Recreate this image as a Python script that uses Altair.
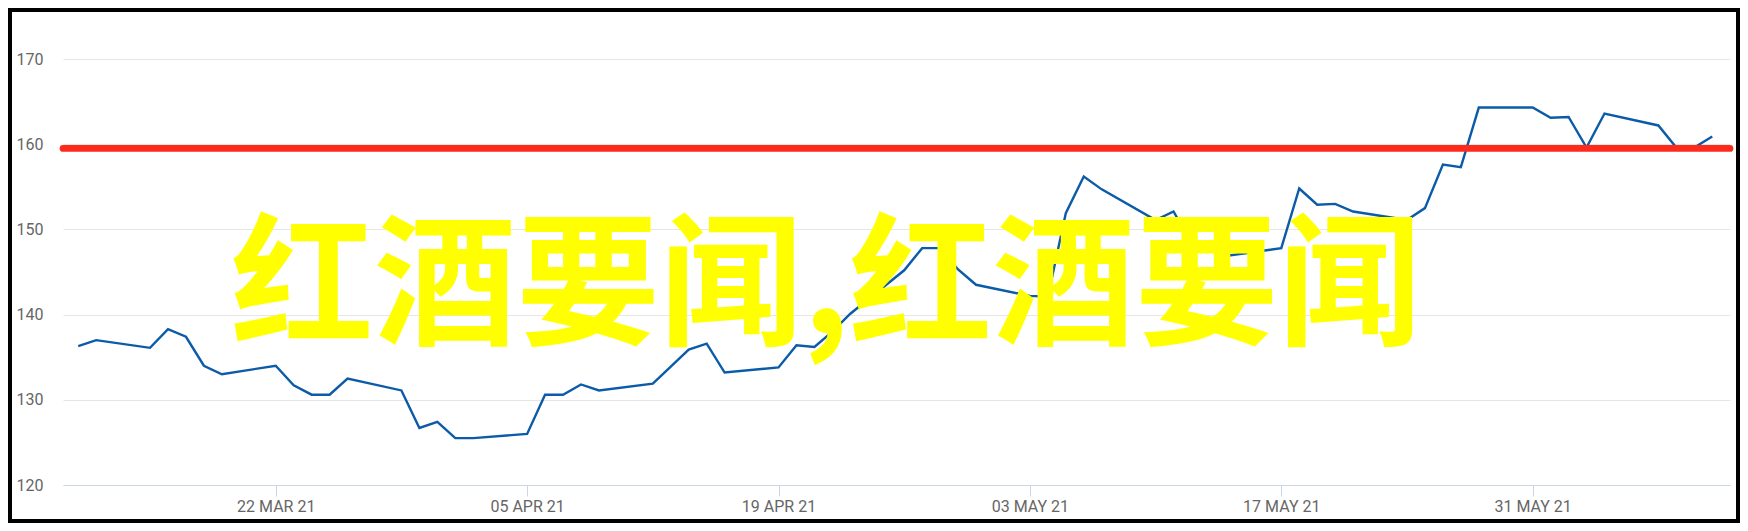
import altair as alt
import pandas as pd

# ---- data ----
dates = [
    "2021-03-11", "2021-03-12", "2021-03-15", "2021-03-16", "2021-03-17", "2021-03-18", "2021-03-19",
    "2021-03-22", "2021-03-23", "2021-03-24", "2021-03-25", "2021-03-26",
    "2021-03-29", "2021-03-30", "2021-03-31", "2021-04-01", "2021-04-02",
    "2021-04-05", "2021-04-06", "2021-04-07", "2021-04-08", "2021-04-09",
    "2021-04-12", "2021-04-13", "2021-04-14", "2021-04-15", "2021-04-16",
    "2021-04-19", "2021-04-20", "2021-04-21", "2021-04-22", "2021-04-23",
    "2021-04-26", "2021-04-27", "2021-04-28", "2021-04-29", "2021-04-30",
    "2021-05-03", "2021-05-04", "2021-05-05", "2021-05-06", "2021-05-07",
    "2021-05-10", "2021-05-11", "2021-05-12", "2021-05-13", "2021-05-14",
    "2021-05-17", "2021-05-18", "2021-05-19", "2021-05-20", "2021-05-21",
    "2021-05-24", "2021-05-25", "2021-05-26", "2021-05-27", "2021-05-28",
    "2021-05-31", "2021-06-01", "2021-06-02", "2021-06-03", "2021-06-04",
    "2021-06-07", "2021-06-08", "2021-06-09", "2021-06-10",
]
values = [
    136.3, 137.0, 136.1, 138.3, 137.4, 134.0, 133.0,
    134.0, 131.7, 130.6, 130.6, 132.5,
    131.1, 126.7, 127.4, 125.5, 125.5,
    126.0, 130.6, 130.6, 131.8, 131.1,
    131.9, 133.9, 135.9, 136.6, 133.2,
    133.8, 136.4, 136.2, 138.0, 140.1,
    145.2, 147.8, 147.8, 145.3, 143.5,
    142.2, 142.1, 151.9, 156.2, 154.7,
    151.1, 152.1, 148.4, 148.4, 146.9,
    147.8, 154.8, 152.9, 153.0, 152.1,
    151.1, 152.5, 157.6, 157.3, 164.3,
    164.3, 163.1, 163.2, 159.6, 163.6,
    162.2, 159.6, 159.6, 160.9,
]
tick_dates = ["2021-03-22", "2021-04-05", "2021-04-19", "2021-05-03", "2021-05-17", "2021-05-31"]
y_ticks = [120, 130, 140, 150, 160, 170]
y_range = [120, 170]
x_range = ["2021-03-10T03:40", "2021-06-10T23:45"]
red_level = [159.5]
overlay_text = ["红酒要闻,红酒要闻"]

# ---- layout ----
W, H = 1667, 426
PAD = {"left": 55, "top": 51, "right": 10, "bottom": 38}


def to_dt(s):
    d, _, t = s.partition("T")
    y, mo, da = map(int, d.split("-"))
    hh, mm = (map(int, t.split(":")) if t else (0, 0))
    return alt.DateTime(year=y, month=mo, date=da, hours=hh, minutes=mm, utc=True)


df = pd.DataFrame({"date": dates, "value": values})

x_scale = alt.Scale(type="utc", domain=[to_dt(s) for s in x_range])
y_scale = alt.Scale(domain=y_range, nice=False, zero=False)

label_font = "Roboto"
label_color = "#666666"

line = alt.Chart(df).mark_line(color="#0b5ba8", strokeWidth=2.4).encode(
    x=alt.X(
        "date:T",
        scale=x_scale,
        axis=alt.Axis(
            values=[to_dt(s) for s in tick_dates],
            labelExpr="upper(utcFormat(datum.value, '%d %b %y'))",
            title=None,
            grid=False,
            domainColor="#ccd6eb",
            domainWidth=1,
            tickColor="#ccd6eb",
            tickSize=11,
            tickWidth=1,
            labelFont=label_font,
            labelFontSize=16,
            labelColor=label_color,
            labelPadding=2,
            labelFlush=False,
            labelOverlap=False,
        ),
    ),
    y=alt.Y(
        "value:Q",
        scale=y_scale,
        axis=alt.Axis(
            values=y_ticks,
            title=None,
            ticks=False,
            domain=False,
            gridColor="#e6e6e6",
            gridWidth=1,
            labelFont=label_font,
            labelFontSize=16,
            labelColor=label_color,
            labelPadding=20,
        ),
    ),
)

rule = alt.Chart(pd.DataFrame({"level": red_level})).mark_rule(
    color="#fe2a1b", strokeWidth=6.7, strokeCap="round"
).encode(y=alt.Y("level:Q", scale=y_scale))

text = alt.Chart(pd.DataFrame({"t": overlay_text})).mark_text(
    font="Noto Sans CJK SC",
    fontSize=143,
    fontWeight="bold",
    color="#ffff00",
    align="center",
    baseline="alphabetic",
).encode(text="t:N", x=alt.value(763), y=alt.value(275))

frame = alt.Chart(pd.DataFrame({"f": [0]})).mark_rect(
    fillOpacity=0, stroke="#000000", strokeWidth=4
).encode(
    x=alt.value(-PAD["left"] + 2),
    x2=alt.value(W + PAD["right"] - 2),
    y=alt.value(-PAD["top"] + 2),
    y2=alt.value(H + PAD["bottom"] - 2),
)

chart = (
    alt.layer(line, rule, text, frame)
    .properties(
        width=W,
        height=H,
        autosize=alt.AutoSizeParams(type="none"),
        padding=PAD,
        background="#ffffff",
    )
    .configure_view(strokeWidth=0)
)

chart.save("out.html", embed_options={"renderer": "svg", "actions": False})
